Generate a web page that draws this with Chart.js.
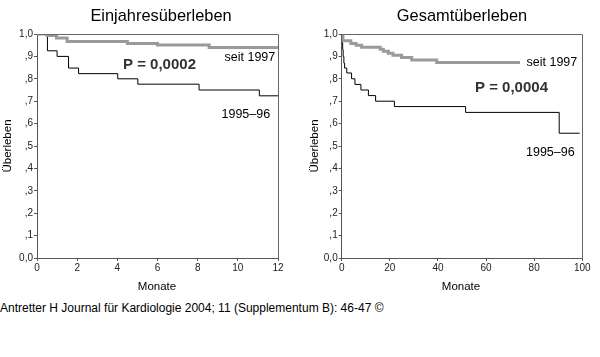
<!DOCTYPE html>
<html>
<head>
<meta charset="utf-8">
<script src="https://cdn.jsdelivr.net/npm/chart.js@4/dist/chart.umd.min.js"></script>
<style>
  html, body { margin:0; padding:0; background:#fff; }
  body { width:600px; height:357px; position:relative; overflow:hidden; font-family:"Liberation Sans", Arial, sans-serif; }
  .box { position:absolute; top:0; width:300px; height:300px; }
  #footer { position:absolute; left:0; top:300px; font-size:12px; line-height:16px; color:#000; white-space:nowrap; }
</style>
</head>
<body>
<div class="box" style="left:0"><canvas id="c1" width="300" height="300"></canvas></div>
<div class="box" style="left:300px"><canvas id="c2" width="300" height="300"></canvas></div>
<div id="footer">Antretter H Journal für Kardiologie 2004; 11 (Supplementum B): 46-47 ©</div>
<script>
// ---- data (months, survival probability) ----
const oneYearTicksX = [0, 2, 4, 6, 8, 10, 12];
const oneYearEarlyTimes  = [0, 0.52, 1.0, 1.57, 2.07, 4.02, 5.02, 8.07, 11.07, 12];
const oneYearEarlyValues = [1, 0.925, 0.90, 0.848, 0.823, 0.80, 0.776, 0.75, 0.724, 0.724];
const oneYearLateTimes   = [0, 0.5, 0.97, 1.5, 4.5, 6.0, 8.57, 12];
const oneYearLateValues  = [1, 0.993, 0.982, 0.966, 0.958, 0.951, 0.94, 0.94];

const overallTicksX = [0, 20, 40, 60, 80, 100];
const overallEarlyTimes  = [0, 0.2, 0.4, 0.6, 0.9, 1.2, 2.1, 4.1, 5.5, 8.0, 11.1, 14.1, 21.9, 51.5, 90.4, 98.9];
const overallEarlyValues = [1, 0.96, 0.93, 0.90, 0.87, 0.848, 0.826, 0.80, 0.775, 0.75, 0.725, 0.70, 0.676, 0.65, 0.557, 0.557];
const overallLateTimes   = [0, 0.5, 3.8, 6.0, 8.3, 16.0, 17.3, 19.4, 21.3, 24.9, 29.1, 39.5, 74.1];
const overallLateValues  = [1, 0.97, 0.958, 0.95, 0.941, 0.932, 0.923, 0.914, 0.905, 0.895, 0.884, 0.873, 0.873];

const yTickLabels = ['0,0', ',1', ',2', ',3', ',4', ',5', ',6', ',7', ',8', ',9', '1,0'];

const FONT = '"Liberation Sans", Arial, sans-serif';

function pts(t, v) { return t.map((x, i) => ({ x: x, y: v[i] })); }

function textPlugin(cfg) {
  return {
    id: 'texts',
    afterDraw(chart) {
      const ctx = chart.ctx, a = chart.chartArea;
      ctx.save();
      // frame top/right
      ctx.strokeStyle = '#666';
      ctx.lineWidth = 1;
      ctx.beginPath();
      ctx.moveTo(Math.round(a.left) + 0.5, Math.round(a.top) + 0.5);
      ctx.lineTo(Math.round(a.right) + 0.5, Math.round(a.top) + 0.5);
      ctx.lineTo(Math.round(a.right) + 0.5, Math.round(a.bottom) + 0.5);
      ctx.stroke();
      ctx.fillStyle = '#000';
      ctx.textBaseline = 'middle';
      // title
      ctx.textAlign = 'center';
      ctx.font = '16.4px ' + FONT;
      ctx.fillText(cfg.title, cfg.titleX, 16);
      // x label
      ctx.font = '11.5px ' + FONT;
      ctx.fillText('Monate', cfg.monX, 287);
      // y label
      ctx.save();
      ctx.translate(cfg.ylabX, 146);
      ctx.rotate(-Math.PI / 2);
      ctx.fillText('Überleben', 0, 0);
      ctx.restore();
      // annotations
      ctx.textAlign = 'left';
      ctx.font = '12.5px ' + FONT;
      ctx.fillText('seit 1997', cfg.seitX, cfg.seitY);
      ctx.fillText('1995–96', cfg.earlyX, cfg.earlyY);
      ctx.font = 'bold 15px ' + FONT;
      ctx.fillStyle = '#333';
      ctx.fillText(cfg.p, cfg.pX, cfg.pY);
      ctx.restore();
    }
  };
}

function makeChart(id, xmax, xstep, xticks, early, late, yWidth, padRight, tcfg) {
  return new Chart(document.getElementById(id), {
    type: 'scatter',
    data: {
      datasets: [
        { data: late, showLine: true, stepped: 'before', borderColor: '#9a9a9a', borderWidth: 3,
          pointRadius: 0, fill: false, borderCapStyle: 'butt' },
        { data: early, showLine: true, stepped: 'before', borderColor: '#000', borderWidth: 1,
          pointRadius: 0, fill: false }
      ]
    },
    options: {
      responsive: false,
      animation: false,
      devicePixelRatio: 1,
      layout: { padding: { left: 0, right: padRight, top: 34, bottom: 0 } },
      plugins: { legend: { display: false }, tooltip: { enabled: false }, title: { display: false } },
      scales: {
        x: {
          type: 'linear', min: 0, max: xmax,
          afterBuildTicks: s => { s.ticks = xticks.map(v => ({ value: v })); },
          afterFit: s => { s.height = 42; },
          grid: { drawOnChartArea: false, drawTicks: true, tickLength: 3, color: '#555' },
          border: { color: '#555', width: 1 },
          ticks: { font: { family: FONT, size: 10 }, color: '#222', padding: 1, maxRotation: 0,
                   callback: v => String(v) }
        },
        y: {
          min: 0, max: 1,
          afterBuildTicks: s => { s.ticks = yTickLabels.map((l, i) => ({ value: i / 10 })); },
          afterFit: s => { s.width = yWidth; },
          grid: { drawOnChartArea: false, drawTicks: true, tickLength: 3, color: '#555' },
          border: { color: '#555', width: 1 },
          ticks: { font: { family: FONT, size: 10 }, color: '#222', padding: 1,
                   callback: (v, i) => yTickLabels[Math.round(v * 10)] }
        }
      }
    },
    plugins: [textPlugin(tcfg)]
  });
}

makeChart('c1', 12, 2, oneYearTicksX, pts(oneYearEarlyTimes, oneYearEarlyValues), pts(oneYearLateTimes, oneYearLateValues),
  37, 22,
  { title: 'Einjahresüberleben', titleX: 161, monX: 157, ylabX: 8,
    seitX: 224.5, seitY: 57.5, earlyX: 221.5, earlyY: 115, p: 'P = 0,0002', pX: 123, pY: 65 });

makeChart('c2', 100, 20, overallTicksX, pts(overallEarlyTimes, overallEarlyValues), pts(overallLateTimes, overallLateValues),
  41.7, 17.7,
  { title: 'Gesamtüberleben', titleX: 162, monX: 161, ylabX: 15,
    seitX: 226.5, seitY: 62.5, earlyX: 226, earlyY: 152.5, p: 'P = 0,0004', pX: 175, pY: 88 });
</script>
</body>
</html>
